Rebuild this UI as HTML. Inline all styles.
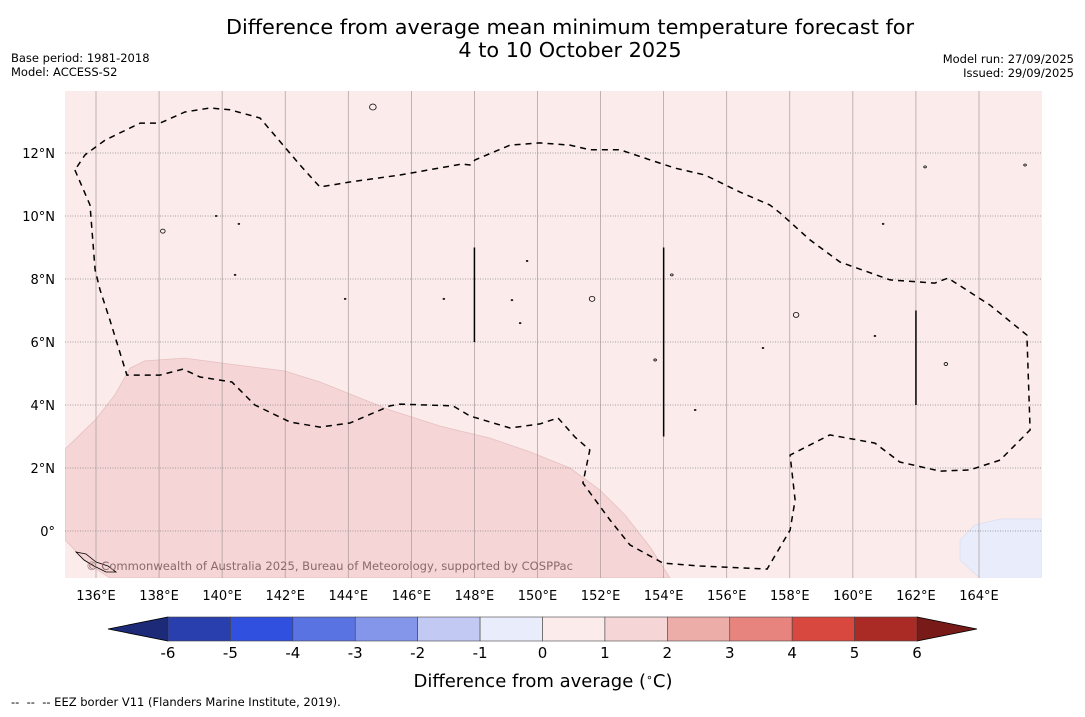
<!DOCTYPE html>
<html><head><meta charset="utf-8">
<style>
body{margin:0;background:#fff;width:1085px;height:713px;overflow:hidden;font-family:"DejaVu Sans","Liberation Sans",sans-serif;}
svg text{font-family:"DejaVu Sans","Liberation Sans",sans-serif;}
</style></head>
<body>
<svg id="chart" width="1085" height="713" xmlns="http://www.w3.org/2000/svg">
<text x="570" y="34" font-size="20.8" text-anchor="middle">Difference from average mean minimum temperature forecast for</text>
<text x="570" y="57" font-size="20.8" text-anchor="middle">4 to 10 October 2025</text>
<text x="11" y="62" font-size="11.5">Base period: 1981-2018</text>
<text x="11" y="76" font-size="11.5">Model: ACCESS-S2</text>
<text x="1074" y="63" font-size="11.5" text-anchor="end">Model run: 27/09/2025</text>
<text x="1074" y="77" font-size="11.5" text-anchor="end">Issued: 29/09/2025</text>
<g id="map"></g>
<g id="cbar"></g>
<text x="543" y="687" font-size="18" text-anchor="middle">Difference from average (<tspan baseline-shift="super" font-size="11">∘</tspan>C)</text>
<text x="11" y="706" font-size="11.5" xml:space="preserve">--  --  -- EEZ border V11 (Flanders Marine Institute, 2019).</text>
</svg>
<script>
const lonTicks=[136,138,140,142,144,146,148,150,152,154,156,158,160,162,164];
const latTicks=[0,2,4,6,8,10,12];
const cbarLevels=[-6,-5,-4,-3,-2,-1,0,1,2,3,4,5,6];
const cbarColors=["#2a3fae","#3050e0","#5a73e3","#8396ea","#c2c9f3","#e9ecfa","#fbebea","#f5d5d5","#ecaca7","#e6847d","#d9483f","#aa2b26"];
const warmLon=[135.02,135.97,136.6,137.08,137.55,138.82,140.25,141.99,143.1,144.05,145.32,146.91,148.49,149.76,151.03,151.98,152.77,153.57,154.2,136.44,135.81,135.02];
const warmLat=[2.6,3.52,4.32,5.17,5.4,5.49,5.3,5.08,4.73,4.35,3.84,3.33,2.95,2.51,2.0,1.3,0.51,-0.51,-1.49,-1.49,-1.08,-0.29];
const coolLon=[163.4,163.87,164.67,166,166,165.3,164.03,163.4];
const coolLat=[-0.29,0.19,0.38,0.38,-1.5,-1.5,-1.5,-0.92];
const eezLon=[135.33,135.81,135.97,136.13,136.44,136.98,138.03,138.76,139.3,140.31,141.04,142.15,143.1,144.05,145.32,145.64,147.32,147.86,149.13,150.08,150.65,151.19,151.66,151.44,152.3,152.93,153.98,155.15,157.28,158.01,158.17,158.01,159.27,160.7,161.49,162.76,163.71,164.67,165.62,165.52,164.35,163.02,162.6,161.18,159.59,158.64,157.69,157.37,156.42,155.31,154.36,153.57,152.62,151.66,151.03,150.08,149.13,148.02,147.86,147.61,145.64,144.05,143.1,142.47,141.2,140.25,139.61,138.82,138.03,137.4,136.29,135.65,135.33];
const eezLat=[11.46,10.35,8.29,7.65,6.7,4.95,4.95,5.14,4.89,4.73,4.0,3.46,3.3,3.43,3.97,4.03,3.97,3.65,3.27,3.4,3.59,2.98,2.57,1.52,0.35,-0.44,-1.02,-1.11,-1.21,0.03,0.98,2.41,3.05,2.79,2.19,1.9,1.94,2.25,3.21,6.22,7.17,8.03,7.87,7.97,8.54,9.24,10.1,10.35,10.76,11.3,11.52,11.78,12.1,12.1,12.25,12.32,12.25,11.78,11.62,11.65,11.3,11.08,10.92,11.62,13.11,13.37,13.43,13.3,12.95,12.95,12.41,11.94,11.46];
const lineLon=[148,154,162];
const lineTop=[9,9,7];
const lineBot=[6,3,4];
const isleLon=[144.78,138.12,139.81,140.53,140.41,143.9,147.03,149.19,149.67,151.73,154.26,153.73,157.15,158.2,160.7,162.95,160.96,162.29,165.46,155.0,149.45];
const isleLat=[13.46,9.52,10.0,9.75,8.13,7.37,7.37,7.33,8.57,7.37,8.13,5.43,5.81,6.86,6.19,5.3,9.75,11.56,11.62,3.84,6.6];
const isleSize=[3,2,0.6,0.6,0.6,0.6,0.6,0.6,0.6,2.5,1,1,0.6,2.5,0.6,1.5,0.6,1,1,0.6,0.6];

const NS="http://www.w3.org/2000/svg";
const X0=65,X1=1042,Y0=91,Y1=578;
function xs(lon){return 96+(lon-136)*(979-96)/28;}
function ys(lat){return 531-lat*(531-153)/12;}
function mk(tag,attrs,parent){const e=document.createElementNS(NS,tag);for(const k in attrs)e.setAttribute(k,attrs[k]);parent.appendChild(e);return e;}
const map=document.getElementById('map');
const defs=mk('defs',{},map);
const cp=mk('clipPath',{id:'clip'},defs);
mk('rect',{x:X0,y:Y0,width:X1-X0,height:Y1-Y0},cp);
const bg=mk('rect',{x:X0,y:Y0,width:X1-X0,height:Y1-Y0,fill:'#fbebea'},map);


const g=mk('g',{'clip-path':'url(#clip)'},map);
function poly(lons,lats){return lons.map((l,i)=>xs(l).toFixed(1)+','+ys(lats[i]).toFixed(1)).join(' ');}
const warm=mk('polygon',{points:poly(warmLon,warmLat),fill:'#f5d5d5',stroke:'#e6c0c0','stroke-width':0.8},g);


const cool=mk('polygon',{points:poly(coolLon,coolLat),fill:'#e9ecfa',stroke:'#dadff2','stroke-width':0.8},g);


lonTicks.forEach(l=>{
  const ln=mk('line',{x1:xs(l),x2:xs(l),y1:Y0,y2:Y1,stroke:'#a89a9a','stroke-width':0.7},g);
  
  
  const t=mk('text',{x:xs(l),y:600,'font-size':13,'text-anchor':'middle'},map);
  t.textContent=l+'°E';
  
  
});
latTicks.forEach(l=>{
  const ln=mk('line',{x1:X0,x2:X1,y1:ys(l),y2:ys(l),stroke:'#888','stroke-width':0.8,'stroke-dasharray':'1,1.5'},g);
  
  
  const t=mk('text',{x:55,y:ys(l)+5,'font-size':13,'text-anchor':'end'},map);
  t.textContent=(l===0?'0°':l+'°N');
  
  
});
const eez=mk('polyline',{points:poly(eezLon,eezLat),fill:'none',stroke:'#000','stroke-width':1.5,'stroke-dasharray':'6,5'},g);


lineLon.forEach((l,i)=>{
  const ln=mk('line',{x1:xs(l),x2:xs(l),y1:ys(lineTop[i]),y2:ys(lineBot[i]),stroke:'#000','stroke-width':1.5},g);
  
  
});
isleLon.forEach((l,i)=>{
  const c=mk('ellipse',{cx:xs(l),cy:ys(isleLat[i]),rx:isleSize[i]+0.3,ry:isleSize[i],fill:'none',stroke:'#000','stroke-width':0.8},g);
  
  
});
const png=mk('path',{d:'M76,552 L86,554 L96,562 L108,566 L116,572 L106,572 L94,566 L84,560 Z',fill:'none',stroke:'#000','stroke-width':0.8},g);


const cr=mk('text',{x:86,y:570,'font-size':11.6,fill:'#8a6a6a',textLength:487,lengthAdjust:'spacingAndGlyphs'},g);
cr.textContent='© Commonwealth of Australia 2025, Bureau of Meteorology, supported by COSPPac';



const cb=document.getElementById('cbar');
const CX0=168,CX1=917,CY0=617,CY1=641;
function cx(v){return CX0+(v-cbarLevels[0])*(CX1-CX0)/(cbarLevels[cbarLevels.length-1]-cbarLevels[0]);}
const lt=mk('polygon',{points:`${CX0},${CY0} ${CX0},${CY1} 108,629`,fill:'#1c2a78',stroke:'#000','stroke-width':0.8},cb);


const rt=mk('polygon',{points:`${CX1},${CY0} ${CX1},${CY1} 977,629`,fill:'#781b18',stroke:'#000','stroke-width':0.8},cb);


cbarColors.forEach((c,i)=>{
  const r=mk('rect',{x:cx(cbarLevels[i]),y:CY0,width:cx(cbarLevels[i+1])-cx(cbarLevels[i]),height:CY1-CY0,fill:c,stroke:'#444','stroke-width':0.6},cb);
  
  
});
cbarLevels.forEach(v=>{
  const t=mk('text',{x:cx(v),y:658,'font-size':15,'text-anchor':'middle'},cb);
  t.textContent=v;
  
  
});
</script>
</body></html>
